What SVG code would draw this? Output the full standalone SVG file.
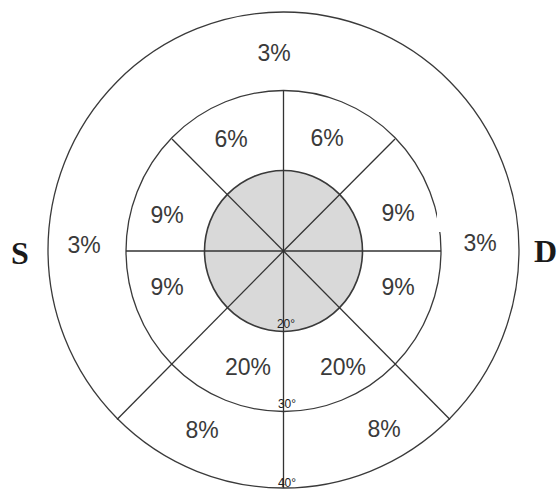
<svg xmlns="http://www.w3.org/2000/svg" width="557" height="490" viewBox="0 0 557 490">
<style>
.ring{fill:none;stroke:#3a3a3a;stroke-width:1.3}
.core{fill:#d9d9d9;stroke:#3a3a3a;stroke-width:1.6}
.ln{stroke:#333;stroke-width:1.3;fill:none}
.pct{font-family:"Liberation Sans",Arial,sans-serif;font-size:23px;fill:#3a3a3a;text-anchor:middle}
.deg{font-family:"Liberation Sans",Arial,sans-serif;font-size:12px;fill:#222;text-anchor:middle}
.side{font-family:"Liberation Serif","Times New Roman",serif;font-size:32px;font-weight:bold;fill:#1a1a1a}
</style>
<rect width="557" height="490" fill="#ffffff"/>
<g id="rings">
  <ellipse id="outer" class="ring" cx="283.5" cy="250" rx="235.5" ry="238"/>
  <ellipse id="middle" class="ring" cx="283.5" cy="251" rx="157.5" ry="160.5"/>
  <ellipse id="inner" class="core" cx="283.5" cy="251" rx="79" ry="80.5"/>
</g>
<g id="connectors">
  <line class="ln" x1="283.5" y1="90.5" x2="283.5" y2="488"/>
  <line class="ln" x1="126" y1="251" x2="441" y2="251"/>
  <line class="ln" x1="172" y1="139" x2="283.5" y2="251"/>
  <line class="ln" x1="395" y1="139" x2="283.5" y2="251"/>
  <line class="ln" x1="117" y1="419.5" x2="283.5" y2="251"/>
  <line class="ln" x1="450" y1="419.5" x2="283.5" y2="251"/>
</g>
<rect x="437" y="213" width="40" height="19" fill="#ffffff"/>
<g id="labels">
  <text class="pct" x="274" y="61">3%</text>
  <text class="pct" x="84" y="253">3%</text>
  <text class="pct" x="480" y="251">3%</text>
  <text class="pct" x="231" y="147">6%</text>
  <text class="pct" x="327" y="146">6%</text>
  <text class="pct" x="167" y="223">9%</text>
  <text class="pct" x="398" y="221">9%</text>
  <text class="pct" x="167" y="295">9%</text>
  <text class="pct" x="398" y="295">9%</text>
  <text class="pct" x="248" y="375">20%</text>
  <text class="pct" x="343" y="375">20%</text>
  <text class="pct" x="202" y="438">8%</text>
  <text class="pct" x="384" y="437">8%</text>
  <text class="deg" x="286" y="328">20°</text>
  <text class="deg" x="287" y="408">30°</text>
  <text class="deg" x="287" y="487">40°</text>
  <text class="side" x="11" y="264">S</text>
  <text class="side" x="534" y="262">D</text>
</g>
</svg>
